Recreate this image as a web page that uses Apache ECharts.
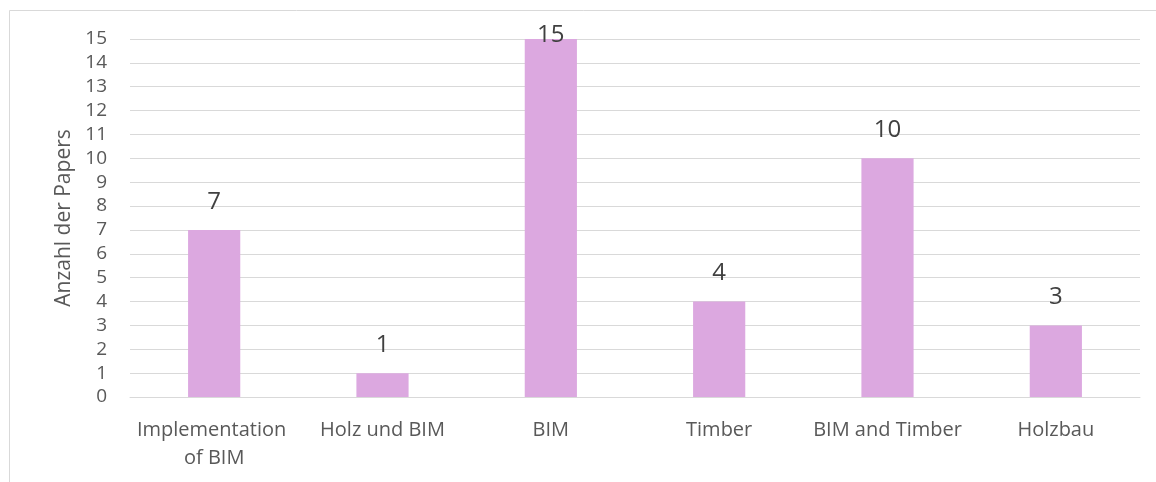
<!DOCTYPE html>
<html><head><meta charset="utf-8">
<script src="https://cdn.jsdelivr.net/npm/echarts@6/dist/echarts.min.js"></script>
<style>html,body{margin:0;padding:0;background:#fff}#c{width:1156px;height:482px}</style>
</head><body><div id="c"></div>
<script>
const categories = ['Implementation of BIM', 'Holz und BIM', 'BIM', 'Timber', 'BIM and Timber', 'Holzbau'];
const values = [7, 1, 15, 4, 10, 3];
const yAxisName = 'Anzahl der Papers';

const yMax = 15;
const seriesData = values.map(v => v >= yMax
  ? { value: v, label: { offset: [0, 24] } }   // label pushed inside the plot, like the original
  : v);

const chart = echarts.init(document.getElementById('c'));
chart.setOption({
  animation: false,
  backgroundColor: '#fff',
  textStyle: { fontFamily: 'Open Sans' },
  graphic: [{
    type: 'rect', shape: { x: 9.5, y: 10.5, width: 1160, height: 490 },
    style: { fill: 'none', stroke: '#D9D9D9', lineWidth: 1 }, silent: true, z: -1
  }],
  grid: { left: 130, right: 16, top: 39, bottom: 85, containLabel: false },
  xAxis: {
    type: 'category', data: categories,
    axisLine: { lineStyle: { color: '#D9D9D9', width: 1 } },
    axisTick: { show: false },
    axisLabel: { color: '#595959', fontSize: 20, fontFamily: 'Open Sans', margin: 19, lineHeight: 28, interval: 0, width: 165, overflow: 'break' }
  },
  yAxis: {
    type: 'value', min: 0, max: yMax, interval: 1,
    name: yAxisName, nameLocation: 'middle', nameGap: 52, nameRotate: 90,
    nameTextStyle: { color: '#595959', fontSize: 21, fontFamily: 'Open Sans' },
    axisLine: { show: false }, axisTick: { show: false },
    axisLabel: { color: '#595959', fontSize: 19, fontFamily: 'Open Sans', margin: 23 },
    splitLine: { lineStyle: { color: '#D9D9D9', width: 1 } }
  },
  series: [{
    type: 'bar', data: seriesData, barWidth: '31%',
    itemStyle: { color: '#DCA8E0' },
    label: { show: true, position: 'top', distance: 16, color: '#404040', fontSize: 24, fontFamily: 'Open Sans' }
  }]
});
</script></body></html>
